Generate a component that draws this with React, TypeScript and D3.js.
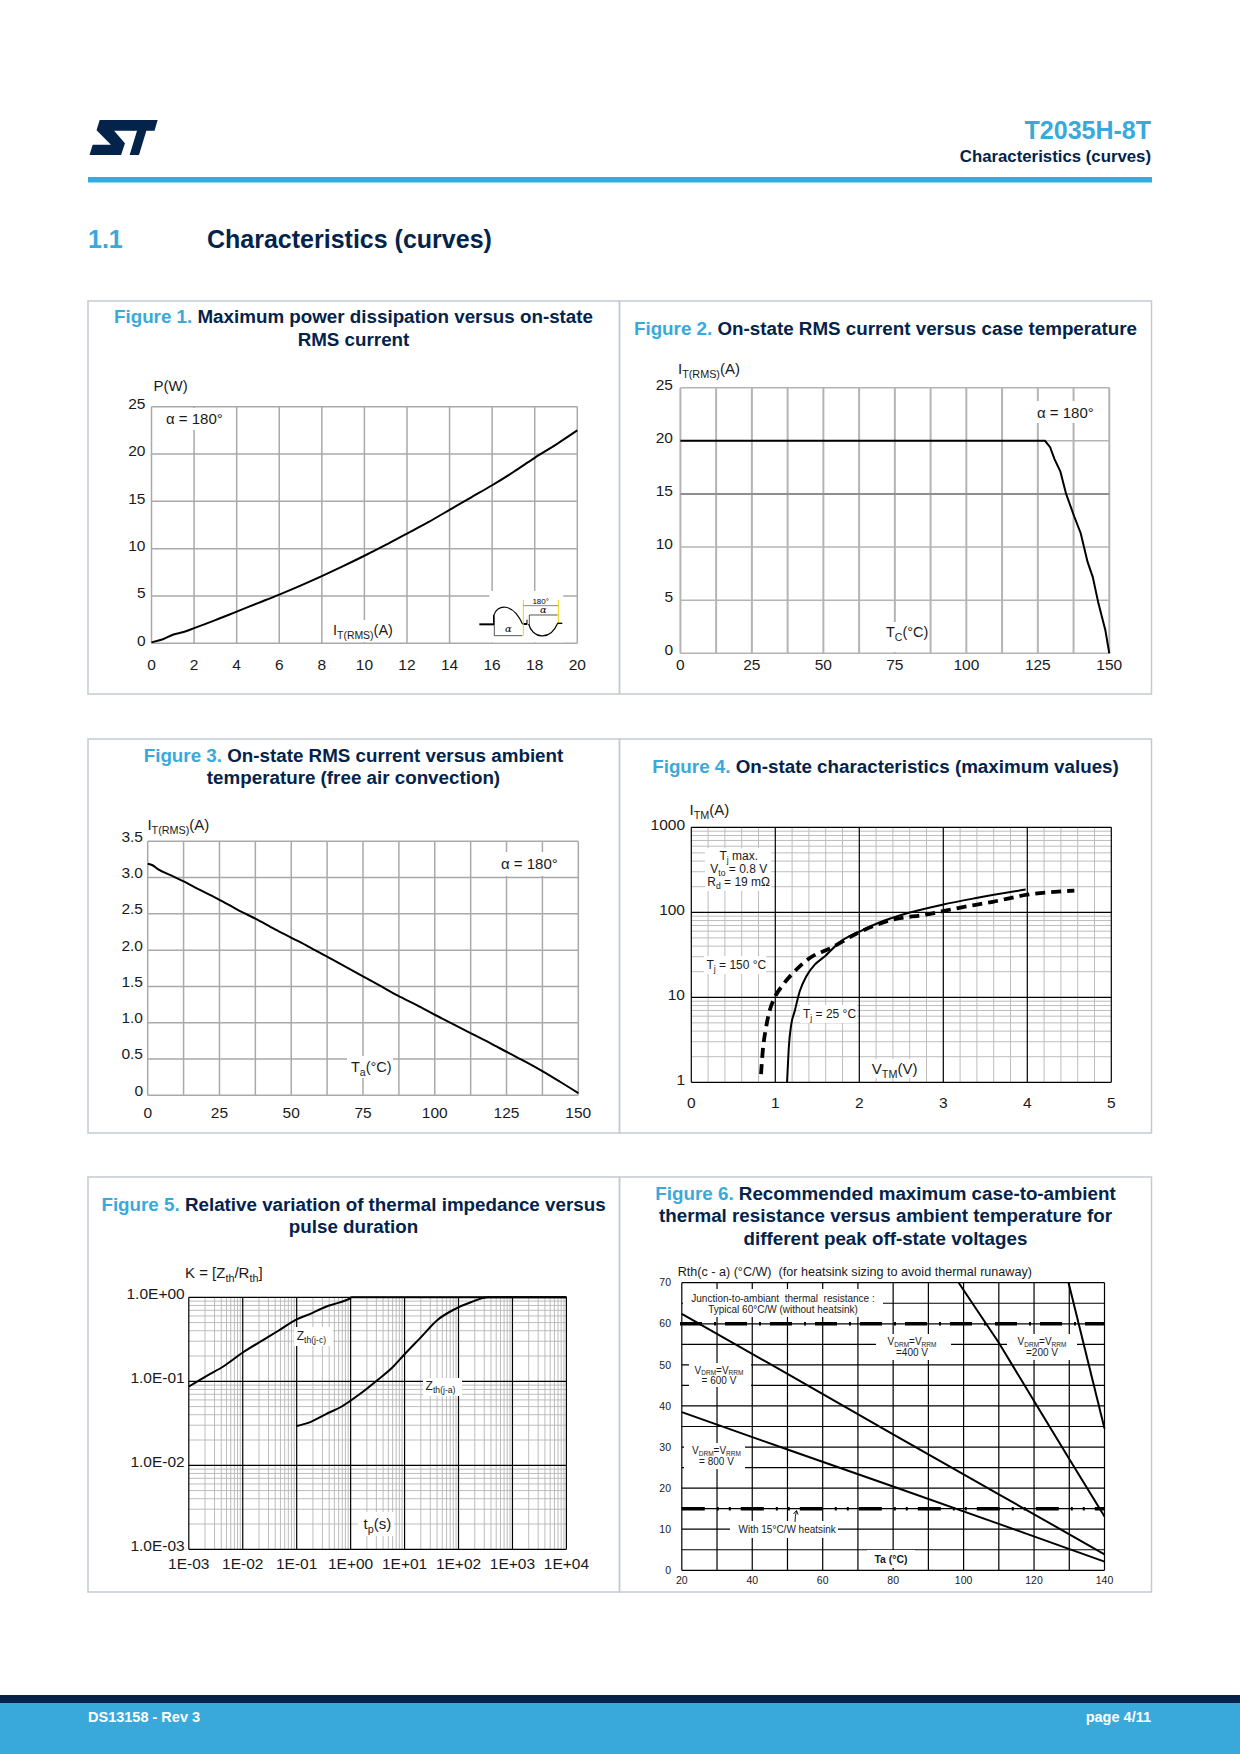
import React from 'react';
import * as d3 from 'd3';

// ---------------- data ----------------
const fig1Current = [0, 0.5, 1, 1.5, 2, 3, 4, 5, 6, 7, 8, 9, 10, 11, 12, 13, 14, 15, 16, 17, 18, 19, 20];
const fig1Power = [0.1, 0.4, 0.9, 1.2, 1.6, 2.45, 3.35, 4.25, 5.15, 6.1, 7.1, 8.15, 9.25, 10.4, 11.6, 12.8, 14.1, 15.4, 16.7, 18.1, 19.6, 21.0, 22.5];
const fig1XTicks = [0, 2, 4, 6, 8, 10, 12, 14, 16, 18, 20];
const fig1YTicks = [0, 5, 10, 15, 20, 25];

const fig2CaseTemp = [0, 127.5, 129.3, 130.8, 132.9, 134.9, 137.7, 140, 142.4, 144.2, 146.2, 148.6, 150];
const fig2Current = [20, 20, 19.4, 18.3, 17.1, 15, 12.9, 11.3, 8.6, 7.2, 4.7, 2.2, 0];
const fig2XGrid = [0, 12.5, 25, 37.5, 50, 62.5, 75, 87.5, 100, 112.5, 125, 137.5, 150];
const fig2XTicks = [0, 25, 50, 75, 100, 125, 150];
const fig2YTicks = [0, 5, 10, 15, 20, 25];

const fig3AmbTemp = [0, 1.7, 3.4, 8.7, 12.9, 18.2, 24.7, 31.2, 37.7, 44.2, 50.1, 56, 62, 69, 75, 80.9, 87.3, 93.9, 100, 106.9, 112.8, 119.3, 125.4, 131.7, 137.6, 143.5, 150];
const fig3Current = [3.19, 3.17, 3.12, 3.02, 2.94, 2.83, 2.7, 2.56, 2.43, 2.29, 2.17, 2.05, 1.92, 1.77, 1.64, 1.51, 1.37, 1.24, 1.11, 0.97, 0.85, 0.72, 0.59, 0.46, 0.33, 0.19, 0.03];
const fig3XGrid = [0, 12.5, 25, 37.5, 50, 62.5, 75, 87.5, 100, 112.5, 125, 137.5, 150];
const fig3XTicks = [0, 25, 50, 75, 100, 125, 150];
const fig3YTicks = [0, 0.5, 1, 1.5, 2, 2.5, 3, 3.5];
const fig3YLabels = ['0', '0.5', '1.0', '1.5', '2.0', '2.5', '3.0', '3.5'];

const fig4V25 = [1.14, 1.15, 1.16, 1.19, 1.23, 1.29, 1.37, 1.47, 1.575, 1.78, 2.01, 2.3, 2.58, 2.99, 3.39, 3.98];
const fig4I25 = [1.0, 1.6, 2.5, 4.8, 6.8, 11.7, 17.7, 24.2, 29.5, 45.5, 59.8, 80, 98, 123, 147, 185];
const fig4V150 = [0.83, 0.85, 0.89, 0.93, 0.99, 1.09, 1.23, 1.41, 1.66, 1.98, 2.38, 2.79, 3.19, 3.59, 4.0, 4.56];
const fig4I150 = [1.25, 2.3, 4.4, 6.8, 9.8, 14, 20.2, 29, 38, 57, 81, 94, 113, 133, 161, 180];
const fig4XTicks = [0, 1, 2, 3, 4, 5];
const fig4YTicks = [1, 10, 100, 1000];

const fig5TimeJC = [0.001, 0.00215, 0.0045, 0.01, 0.025, 0.045, 0.1, 0.17, 0.34, 0.61, 0.94, 1.05, 10000];
const fig5KJC = [0.0864, 0.116, 0.152, 0.22, 0.316, 0.397, 0.547, 0.627, 0.767, 0.864, 0.96, 1.0, 1.0];
const fig5TimeJA = [0.1, 0.168, 0.343, 0.708, 1.46, 3.0, 6.2, 10, 19.8, 40.7, 84, 174, 355, 10000];
const fig5KJA = [0.0294, 0.0322, 0.0405, 0.0508, 0.07, 0.101, 0.15, 0.21, 0.331, 0.537, 0.72, 0.88, 1.0, 1.0];
const fig5XTicks = [0.001, 0.01, 0.1, 1, 10, 100, 1000, 10000];
const fig5XLabels = ['1E-03', '1E-02', '1E-01', '1E+00', '1E+01', '1E+02', '1E+03', '1E+04'];
const fig5YTicks = [0.001, 0.01, 0.1, 1];
const fig5YLabels = ['1.0E-03', '1.0E-02', '1.0E-01', '1.0E+00'];

const fig6Temp = [20, 50, 80, 110, 140];
const fig6R800 = [38.5, 29.4, 20.4, 11.3, 2.1];
const fig6R600 = [62.4, 47.8, 33.1, 18.5, 3.9];
const fig6Temp400 = [98.6, 110, 120, 130, 140];
const fig6R400 = [70, 55.4, 41.2, 27.1, 13.1];
const fig6Temp200 = [129.8, 140];
const fig6R200 = [70, 34.5];
const fig6XTicks = [20, 40, 60, 80, 100, 120, 140];
const fig6YTicks = [0, 10, 20, 30, 40, 50, 60, 70];
const fig6JunctionLevel = 60;
const fig6HeatsinkLevel = 15;

// ---------------- style ----------------
const NAVY = '#03234b';
const LBLUE = '#39a9dc';
const FONT = "'Liberation Sans', Arial, Helvetica, sans-serif";
const TXT = '#1a1a1a';

type Part = string | [string];

function RT({ x, y, parts, size, anchor = 'start', weight = 400, fill = TXT, sub = 0.72, shift }: any) {
  const sh = shift ?? size * 0.28;
  let cur = 0;
  return (
    <text x={x} y={y} fontSize={size} textAnchor={anchor} fontWeight={weight} fill={fill}>
      {parts.map((p: Part, i: number) => {
        if (typeof p === 'string') {
          const dy = -cur;
          cur = 0;
          return <tspan key={i} dy={dy}>{p}</tspan>;
        }
        const dy = sh - cur;
        cur = sh;
        return <tspan key={i} dy={dy} fontSize={size * sub}>{p[0]}</tspan>;
      })}
    </text>
  );
}

function WBox({ x1, y1, x2, y2 }: any) {
  return <rect x={x1} y={y1} width={x2 - x1} height={y2 - y1} fill="#fff" />;
}

function Title({ cx, y, num, lines }: any) {
  return (
    <g fontSize={18.8} fontWeight={700} textAnchor="middle">
      {lines.map((ln: string, i: number) => (
        <text key={i} x={cx} y={y + i * 22.5 + 6.5}>
          {i === 0 && <tspan fill={LBLUE}>{`Figure ${num}. `}</tspan>}
          <tspan fill={NAVY}>{ln}</tspan>
        </text>
      ))}
    </g>
  );
}

function Box({ x1, y1, x2, y2 }: any) {
  return <rect x={x1} y={y1} width={x2 - x1} height={y2 - y1} fill="none" stroke="#c3cad2" strokeWidth={1.5} />;
}

// ---------------- figures ----------------
function Fig1() {
  const x = d3.scaleLinear([0, 20], [151.5, 577.3]);
  const y = d3.scaleLinear([0, 25], [643.3, 406.7]);
  const path = d3.line<number>().x((d, i) => x(fig1Current[i])).y(d => y(d)).curve(d3.curveMonotoneX)(fig1Power);
  const gc = '#a9a9a9';
  return (
    <g>
      <Title cx={353.5} y={316.7} num={1} lines={['Maximum power dissipation versus on-state', 'RMS current']} />
      {fig1XTicks.map(v => <line key={'x' + v} x1={x(v)} x2={x(v)} y1={y(0)} y2={y(25)} stroke={gc} strokeWidth={1.5} />)}
      {fig1YTicks.map(v => <line key={'y' + v} x1={x(0)} x2={x(20)} y1={y(v)} y2={y(v)} stroke={gc} strokeWidth={1.5} />)}
      <WBox x1={162} y1={408} x2={226} y2={430} />
      <WBox x1={330} y1={620} x2={396} y2={642} />
      <path d={path!} fill="none" stroke="#000" strokeWidth={2} />
      <g fontSize={15.5} fill={TXT}>
        {fig1YTicks.map(v => <text key={v} x={145.5} y={y(v) - 3 + 5.4} textAnchor="end">{v}</text>)}
        {fig1XTicks.map(v => <text key={v} x={x(v)} y={669.7} textAnchor="middle">{v}</text>)}
      </g>
      <text x={153.5} y={390.5} fontSize={15} fill={TXT}>P(W)</text>
      <text x={166} y={424.2} fontSize={15} fill={TXT}>α = 180°</text>
      <RT x={333} y={635} size={14.5} parts={['I', ['T(RMS)'], '(A)']} />
      {/* waveform inset */}
      <g transform="translate(470,585) scale(0.3333)">
        <rect x={58} y={18} width={222} height={154} fill="#fff" />
        <line x1={28} y1={118} x2={72} y2={118} stroke="#000" strokeWidth={6} />
        <line x1={71} y1={120} x2={71} y2={90} stroke="#000" strokeWidth={4} />
        <path d="M71,92 C80,58 128,50 158,118" fill="none" stroke="#000" strokeWidth={3.5} />
        <path d="M73,92 L73,152 L157,152" fill="none" stroke="#000" strokeWidth={2} />
        <text x={115} y={140} fontSize={30} fontStyle="italic" fontFamily="'DejaVu Serif', serif" textAnchor="middle" fill="#000">α</text>
        <line x1={160} y1={45} x2={160} y2={153} stroke="#e8d800" strokeWidth={3} />
        <line x1={161} y1={117} x2={171} y2={117} stroke="#000" strokeWidth={6} />
        <line x1={171} y1={119} x2={171} y2={104} stroke="#000" strokeWidth={3} />
        <line x1={178} y1={90} x2={178} y2={120} stroke="#000" strokeWidth={2} />
        <line x1={178} y1={90} x2={263} y2={90} stroke="#000" strokeWidth={2} />
        <path d="M176,117 C186,160 240,170 263,115" fill="none" stroke="#000" strokeWidth={3.5} />
        <line x1={160} y1={62} x2={265} y2={62} stroke="#888" strokeWidth={3} />
        <text x={212} y={56} fontSize={24} textAnchor="middle" fill="#000">180°</text>
        <text x={220} y={85} fontSize={30} fontStyle="italic" fontFamily="'DejaVu Serif', serif" textAnchor="middle" fill="#000">α</text>
        <line x1={265} y1={45} x2={265} y2={118} stroke="#e8d800" strokeWidth={3} />
        <line x1={262} y1={115} x2={277} y2={115} stroke="#000" strokeWidth={4} />
      </g>
    </g>
  );
}

function Fig2() {
  const x = d3.scaleLinear([0, 150], [680.4, 1109.3]);
  const y = d3.scaleLinear([0, 25], [653.3, 387.7]);
  const path = d3.line<number>().x((d, i) => x(fig2CaseTemp[i])).y(d => y(d))(fig2Current);
  const gc = '#b4b4b4';
  return (
    <g>
      <Title cx={885.5} y={328.3} num={2} lines={['On-state RMS current versus case temperature']} />
      {fig2XGrid.map(v => <line key={'x' + v} x1={x(v)} x2={x(v)} y1={y(0)} y2={y(25)} stroke={gc} strokeWidth={2} />)}
      {fig2YTicks.map(v => <line key={'y' + v} x1={x(0)} x2={x(150)} y1={y(v)} y2={y(v)} stroke={v === 15 ? '#8f8f8f' : gc} strokeWidth={v === 15 ? 2 : 1.5} />)}
      <WBox x1={1033} y1={401} x2={1098} y2={423} />
      <WBox x1={882} y1={622} x2={928} y2={652} />
      <path d={path!} fill="none" stroke="#000" strokeWidth={2} />
      <g fontSize={15.5} fill={TXT}>
        {fig2YTicks.map(v => <text key={v} x={673} y={y(v) - 3.5 + 5.4} textAnchor="end">{v}</text>)}
        {fig2XTicks.map(v => <text key={v} x={x(v)} y={669.7} textAnchor="middle">{v}</text>)}
      </g>
      <RT x={678} y={374} size={15} parts={['I', ['T(RMS)'], '(A)']} />
      <text x={1037} y={417.9} fontSize={15} fill={TXT}>α = 180°</text>
      <RT x={886} y={636.5} size={14.5} parts={['T', ['C'], '(°C)']} />
    </g>
  );
}

function Fig3() {
  const x = d3.scaleLinear([0, 150], [147.7, 578.3]);
  const y = d3.scaleLinear([0, 3.5], [1095.3, 841.3]);
  const path = d3.line<number>().x((d, i) => x(fig3AmbTemp[i])).y(d => y(d)).curve(d3.curveMonotoneX)(fig3Current);
  const gc = '#a9a9a9';
  return (
    <g>
      <Title cx={353.5} y={755.3} num={3} lines={['On-state RMS current versus ambient', 'temperature (free air convection)']} />
      {fig3XGrid.map(v => <line key={'x' + v} x1={x(v)} x2={x(v)} y1={y(0)} y2={y(3.5)} stroke={gc} strokeWidth={1.5} />)}
      {fig3YTicks.map(v => <line key={'y' + v} x1={x(0)} x2={x(150)} y1={y(v)} y2={y(v)} stroke={gc} strokeWidth={1.5} />)}
      <WBox x1={497} y1={852} x2={562} y2={876} />
      <WBox x1={347} y1={1056} x2={393} y2={1078} />
      <path d={path!} fill="none" stroke="#000" strokeWidth={2} />
      <g fontSize={15.5} fill={TXT}>
        {fig3YTicks.map((v, i) => <text key={v} x={143} y={y(v) - 5 + 5.4} textAnchor="end">{fig3YLabels[i]}</text>)}
        {fig3XTicks.map(v => <text key={v} x={x(v)} y={1117.7} textAnchor="middle">{v}</text>)}
      </g>
      <RT x={147.4} y={830} size={15} parts={['I', ['T(RMS)'], '(A)']} />
      <text x={501} y={869.2} fontSize={15} fill={TXT}>α = 180°</text>
      <RT x={351} y={1072} size={14.5} parts={['T', ['a'], '(°C)']} />
    </g>
  );
}

function Fig4() {
  const x = d3.scaleLinear([0, 5], [691.3, 1111.3]);
  const y = d3.scaleLog([1, 1000], [1082.3, 827.3]);
  const lineGen = (vs: number[]) => d3.line<number>().x((d, i) => x(vs[i])).y(d => y(d)).curve(d3.curveMonotoneX);
  const p25 = lineGen(fig4V25)(fig4I25);
  const p150 = lineGen(fig4V150)(fig4I150);
  const minorX = d3.range(0.2, 5, 0.2).filter(v => Math.abs(v - Math.round(v)) > 0.01);
  const minorY: number[] = [];
  [1, 10, 100].forEach(d => [2, 3, 4, 5, 6, 7, 8, 9].forEach(k => minorY.push(d * k)));
  return (
    <g>
      <Title cx={885.5} y={766.3} num={4} lines={['On-state characteristics (maximum values)']} />
      {minorX.map(v => <line key={'mx' + v} x1={x(v)} x2={x(v)} y1={y(1)} y2={y(1000)} stroke="#bdbdbd" strokeWidth={1} />)}
      {minorY.map(v => <line key={'my' + v} x1={x(0)} x2={x(5)} y1={y(v)} y2={y(v)} stroke="#bdbdbd" strokeWidth={1} />)}
      {fig4XTicks.map(v => <line key={'x' + v} x1={x(v)} x2={x(v)} y1={y(1)} y2={y(1000)} stroke="#000" strokeWidth={1.2} />)}
      {fig4YTicks.map(v => <line key={'y' + v} x1={x(0)} x2={x(5)} y1={y(v)} y2={y(v)} stroke="#000" strokeWidth={1.2} />)}
      <WBox x1={705} y1={848} x2={771} y2={891} />
      <WBox x1={704} y1={956} x2={766} y2={974} />
      <WBox x1={800} y1={1005} x2={857} y2={1023} />
      <WBox x1={868} y1={1059} x2={918} y2={1078} />
      <path d={p25!} fill="none" stroke="#000" strokeWidth={2} />
      <path d={p150!} fill="none" stroke="#000" strokeWidth={3.8} strokeDasharray="10,6" />
      <g fontSize={15.5} fill={TXT}>
        {fig4YTicks.map(v => <text key={v} x={685} y={y(v) - 2.6 + 5.4} textAnchor="end">{v}</text>)}
        {fig4XTicks.map(v => <text key={v} x={x(v)} y={1107.7} textAnchor="middle">{v}</text>)}
      </g>
      <RT x={689.5} y={815} size={15} parts={['I', ['TM'], '(A)']} />
      <g fontSize={12} fill={TXT}>
        <RT x={738.7} y={860} size={12} anchor="middle" parts={['T', ['j'], ' max.']} />
        <RT x={738.7} y={873} size={12} anchor="middle" parts={['V', ['to'], ' = 0.8 V']} />
        <RT x={738.7} y={886} size={12} anchor="middle" parts={['R', ['d'], ' = 19 mΩ']} />
        <RT x={706.5} y={968.8} size={12} parts={['T', ['j'], ' = 150 °C']} />
        <RT x={803} y={1018} size={12} parts={['T', ['j'], ' = 25 °C']} />
      </g>
      <RT x={871.8} y={1074} size={15} parts={['V', ['TM'], '(V)']} />
    </g>
  );
}

function Fig5() {
  const x = d3.scaleLog([0.001, 10000], [188.8, 566.4]);
  const y = d3.scaleLog([0.001, 1], [1549.3, 1297.3]);
  const pJC = d3.line<number>().x((d, i) => x(fig5TimeJC[i])).y(d => y(d)).curve(d3.curveMonotoneX)(fig5KJC);
  const pJA = d3.line<number>().x((d, i) => x(fig5TimeJA[i])).y(d => y(d)).curve(d3.curveMonotoneX)(fig5KJA);
  const minorX: number[] = [];
  [0.001, 0.01, 0.1, 1, 10, 100, 1000].forEach(d => [2, 3, 4, 5, 6, 7, 8, 9].forEach(k => minorX.push(d * k)));
  const minorY: number[] = [];
  [0.001, 0.01, 0.1].forEach(d => [2, 3, 4, 5, 6, 7, 8, 9].forEach(k => minorY.push(d * k)));
  return (
    <g>
      <Title cx={353.5} y={1204.3} num={5} lines={['Relative variation of thermal impedance versus', 'pulse duration']} />
      {minorX.map(v => <line key={'mx' + v} x1={x(v)} x2={x(v)} y1={y(0.001)} y2={y(1)} stroke="#b5b5b5" strokeWidth={0.9} />)}
      {minorY.map(v => <line key={'my' + v} x1={x(0.001)} x2={x(10000)} y1={y(v)} y2={y(v)} stroke="#b5b5b5" strokeWidth={0.9} />)}
      {fig5XTicks.map(v => <line key={'x' + v} x1={x(v)} x2={x(v)} y1={y(0.001)} y2={y(1)} stroke="#000" strokeWidth={1.2} />)}
      {fig5YTicks.map(v => <line key={'y' + v} x1={x(0.001)} x2={x(10000)} y1={y(v)} y2={y(v)} stroke="#000" strokeWidth={1.2} />)}
      <WBox x1={294} y1={1327} x2={333} y2={1346} />
      <WBox x1={423} y1={1378} x2={462} y2={1396} />
      <WBox x1={358} y1={1512} x2={394} y2={1536} />
      <path d={pJC!} fill="none" stroke="#000" strokeWidth={2} />
      <path d={pJA!} fill="none" stroke="#000" strokeWidth={2} />
      <g fontSize={15.5} fill={TXT}>
        {fig5YTicks.map((v, i) => <text key={v} x={184.7} y={y(v) - 4 + 5.4} textAnchor="end">{fig5YLabels[i]}</text>)}
        {fig5XTicks.map((v, i) => <text key={v} x={x(v)} y={1568.7} textAnchor="middle">{fig5XLabels[i]}</text>)}
      </g>
      <RT x={185} y={1278} size={15} parts={['K = [Z', ['th'], '/R', ['th'], ']']} />
      <RT x={296.7} y={1339.5} size={12} parts={['Z', ['th(j-c)']]} />
      <RT x={425.6} y={1390} size={12} parts={['Z', ['th(j-a)']]} />
      <RT x={363.5} y={1528.5} size={15} parts={['t', ['p'], '(s)']} />
    </g>
  );
}

function Fig6() {
  const x = d3.scaleLinear([20, 140], [681.8, 1104.5]);
  const y = d3.scaleLinear([0, 70], [1570.3, 1282.7]);
  const lg = (ts: number[]) => d3.line<number>().x((d, i) => x(ts[i])).y(d => y(d));
  const hLines = d3.range(0, 71, 5);
  const vLines = d3.range(20, 141, 10);
  return (
    <g>
      <Title cx={885.5} y={1193.3} num={6} lines={['Recommended maximum case-to-ambient', 'thermal resistance versus ambient temperature for', 'different peak off-state voltages']} />
      {vLines.map(v => <line key={'x' + v} x1={x(v)} x2={x(v)} y1={y(0)} y2={y(70)} stroke="#000" strokeWidth={1.2} />)}
      {hLines.map(v => <line key={'y' + v} x1={x(20)} x2={x(140)} y1={y(v)} y2={y(v)} stroke="#000" strokeWidth={1.2} />)}
      <WBox x1={683} y1={1289} x2={883} y2={1317} />
      <WBox x1={876} y1={1334} x2={951} y2={1360} />
      <WBox x1={1007} y1={1334} x2={1077} y2={1360} />
      <WBox x1={689} y1={1363} x2={751} y2={1387} />
      <WBox x1={684} y1={1443} x2={745} y2={1469} />
      <WBox x1={730} y1={1521} x2={838} y2={1538} />
      <WBox x1={867} y1={1550} x2={915} y2={1568} />
      <line x1={680} x2={1104.5} y1={y(fig6JunctionLevel)} y2={y(fig6JunctionLevel)} stroke="#000" strokeWidth={3.5} strokeDasharray="22,12,2,9" />
      <line x1={681.8} x2={1104.5} y1={y(fig6HeatsinkLevel)} y2={y(fig6HeatsinkLevel)} stroke="#000" strokeWidth={3.5} strokeDasharray="23,12,2,10,2,10" />
      <path d={lg(fig6Temp)(fig6R800)!} fill="none" stroke="#000" strokeWidth={2} />
      <path d={lg(fig6Temp)(fig6R600)!} fill="none" stroke="#000" strokeWidth={2} />
      <path d={lg(fig6Temp400)(fig6R400)!} fill="none" stroke="#000" strokeWidth={2} />
      <path d={lg(fig6Temp200)(fig6R200)!} fill="none" stroke="#000" strokeWidth={2} />
      <g fontSize={10.5} fill={TXT}>
        {fig6YTicks.map(v => <text key={v} x={671} y={y(v) + 3.7} textAnchor="end">{v}</text>)}
        {fig6XTicks.map(v => <text key={v} x={x(v)} y={1583.7} textAnchor="middle">{v}</text>)}
      </g>
      <text x={677.7} y={1276.3} fontSize={12.6} fill={TXT} style={{ whiteSpace: 'pre' }}>{'Rth(c - a) (°C/W)  (for heatsink sizing to avoid thermal runaway)'}</text>
      <g fontSize={10} fill={TXT}>
        <text x={783} y={1301.8} textAnchor="middle" style={{ whiteSpace: 'pre' }}>{'Junction-to-ambiant  thermal  resistance :'}</text>
        <text x={783} y={1312.8} textAnchor="middle">Typical 60°C/W (without heatsink)</text>
        <RT x={912} y={1345} size={10} anchor="middle" sub={0.65} shift={1.5} parts={['V', ['DRM'], '=V', ['RRM']]} />
        <text x={912} y={1355.5} textAnchor="middle">=400 V</text>
        <RT x={1042} y={1345} size={10} anchor="middle" sub={0.65} shift={1.5} parts={['V', ['DRM'], '=V', ['RRM']]} />
        <text x={1042} y={1355.5} textAnchor="middle">=200 V</text>
        <RT x={719} y={1373.5} size={10} anchor="middle" sub={0.65} shift={1.5} parts={['V', ['DRM'], '=V', ['RRM']]} />
        <text x={719} y={1384} textAnchor="middle">= 600 V</text>
        <RT x={716.5} y={1454} size={10} anchor="middle" sub={0.65} shift={1.5} parts={['V', ['DRM'], '=V', ['RRM']]} />
        <text x={716.5} y={1464.5} textAnchor="middle">= 800 V</text>
        <text x={738.5} y={1532.8}>With 15°C/W heatsink</text>
      </g>
      <path d="M795,1522 Q795,1516 796.5,1511" fill="none" stroke="#000" strokeWidth={0.9} />
      <path d="M793.5,1514 L796.5,1510.5 L798,1514.5" fill="none" stroke="#000" strokeWidth={0.9} />
      <text x={891} y={1562.7} fontSize={10.5} fontWeight={700} textAnchor="middle" fill={TXT}>Ta (°C)</text>
    </g>
  );
}

function Logo() {
  return (
    <g transform="translate(74,106) scale(0.389,0.467)" fill={NAVY}>
      <path d="M66,30 L162,30 L154,53 L103,53 L131,80 L121,105 L40,105 L48,83 L95,83 L58,52 Z" />
      <path d="M160,30 L215,30 L207,53 L186,53 L167,105 L143,105 L162,53 L152,53 Z" />
    </g>
  );
}

export default function App() {
  return (
    <svg width={1240} height={1754} viewBox="0 0 1240 1754" style={{ position: 'absolute', left: 0, top: 0, display: 'block' }} fontFamily={FONT}>
      <rect x={0} y={0} width={1240} height={1754} fill="#fff" />
      <Logo />
      <text x={1151} y={138.5} fontSize={25} fontWeight={700} fill={LBLUE} textAnchor="end">T2035H-8T</text>
      <text x={1151} y={162} fontSize={16.8} fontWeight={700} fill={NAVY} textAnchor="end">Characteristics (curves)</text>
      <rect x={88} y={177} width={1064} height={5.5} fill={LBLUE} />
      <text x={88} y={248} fontSize={25} fontWeight={700} fill={LBLUE}>1.1</text>
      <text x={207} y={248} fontSize={25} fontWeight={700} fill={NAVY}>Characteristics (curves)</text>

      <Fig1 />
      <Fig2 />
      <Fig3 />
      <Fig4 />
      <Fig5 />
      <Fig6 />

      <Box x1={88} y1={301} x2={619.5} y2={694} />
      <Box x1={619.5} y1={301} x2={1151.5} y2={694} />
      <Box x1={88} y1={739} x2={619.5} y2={1133} />
      <Box x1={619.5} y1={739} x2={1151.5} y2={1133} />
      <Box x1={88} y1={1177} x2={619.5} y2={1592} />
      <Box x1={619.5} y1={1177} x2={1151.5} y2={1592} />

      <rect x={0} y={1695} width={1240} height={8} fill={NAVY} />
      <rect x={0} y={1703} width={1240} height={51} fill={LBLUE} />
      <text x={88} y={1721.5} fontSize={14.5} fontWeight={700} fill="#fff">DS13158 - Rev 3</text>
      <text x={1151} y={1721.5} fontSize={14.5} fontWeight={700} fill="#fff" textAnchor="end">page 4/11</text>
    </svg>
  );
}
